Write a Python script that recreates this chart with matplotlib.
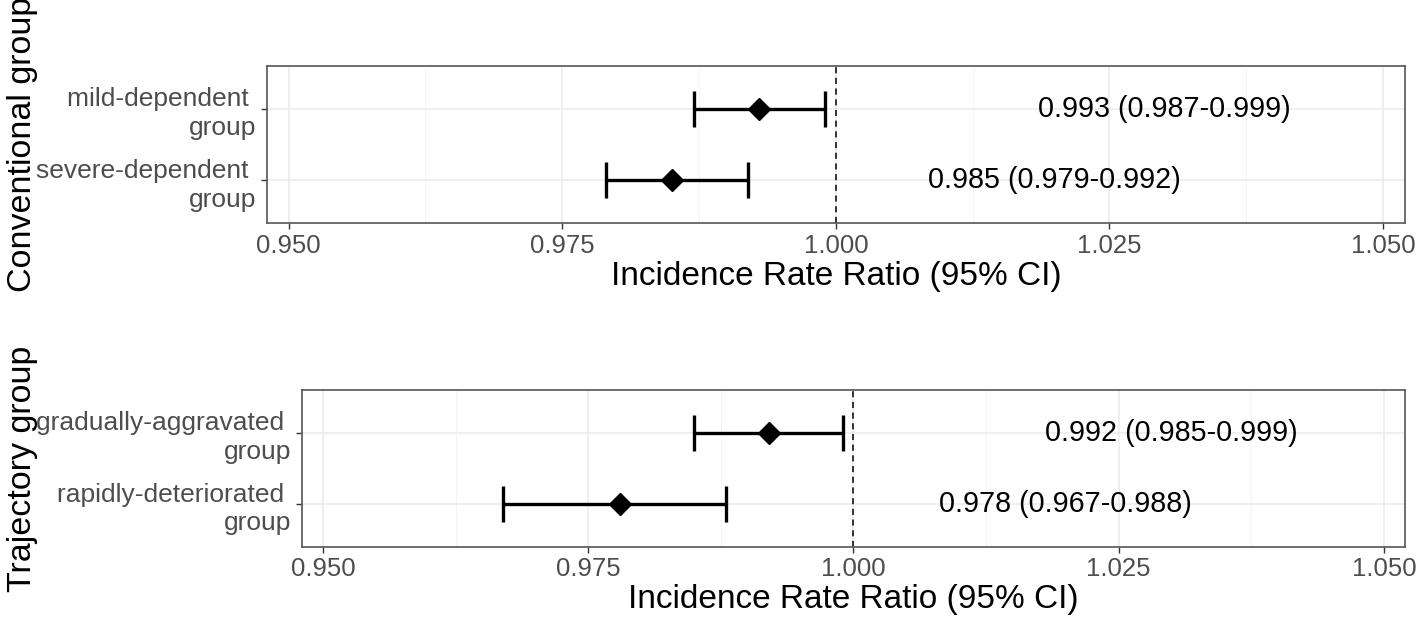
import matplotlib.pyplot as plt
from matplotlib.ticker import MultipleLocator

plt.rcParams["font.family"] = ["Liberation Sans", "DejaVu Sans"]

# panel 1: conventional grouping
conv_labels = ["mild-dependent \ngroup", "severe-dependent \ngroup"]
conv_irr = [0.993, 0.985]
conv_low = [0.987, 0.979]
conv_high = [0.999, 0.992]

# panel 2: trajectory grouping
traj_labels = ["gradually-aggravated \ngroup", "rapidly-deteriorated \ngroup"]
traj_irr = [0.992, 0.978]
traj_low = [0.985, 0.967]
traj_high = [0.999, 0.988]

xticks = [0.950, 0.975, 1.000, 1.025, 1.050]
# where the IRR text sits (centre, in x units), first and second row
text_pos = [1.030, 1.020]


def forest(ax, labels, irr, low, high):
    y = [2, 1]
    ax.set_xlim(0.948, 1.052)
    ax.set_ylim(0.4, 2.6)
    ax.xaxis.set_minor_locator(MultipleLocator(0.0125))
    ax.set_xticks(xticks)
    ax.set_xticklabels([f"{t:.3f}" for t in xticks])
    ax.set_yticks(y)
    for lab in ax.set_yticklabels(labels, fontsize=19):
        lab.set_linespacing(1.25)
    ax.grid(which="major", color="#ebebeb", lw=1.1)
    ax.grid(which="minor", axis="x", color="#f3f3f3", lw=0.6)
    ax.set_axisbelow(True)
    ax.tick_params(which="minor", length=0)
    ax.tick_params(which="major", length=4, color="#333333", width=1,
                   labelcolor="#4d4d4d")
    ax.tick_params(axis="x", labelsize=18.5)
    for s in ax.spines.values():
        s.set_color("#555555")
        s.set_linewidth(1.2)

    ax.axvline(1.0, color="black", lw=1.1, ls=(0, (4, 3)))
    err = [[m - l for m, l in zip(irr, low)], [h - m for m, h in zip(irr, high)]]
    ax.errorbar(irr, y, xerr=err, fmt="none", ecolor="black", elinewidth=2.4,
                capsize=13, capthick=2.4)
    ax.plot(irr, y, ls="none", marker="D", color="black", markersize=11)
    for yy, m, l, h, tx in zip(y, irr, low, high, text_pos):
        ax.text(tx, yy, f"{m:.3f} ({l:.3f}-{h:.3f})", ha="center", va="center",
                fontsize=20.7, color="black")
    ax.set_xlabel("Incidence Rate Ratio (95% CI)", fontsize=24, labelpad=2)
    return ax


fig = plt.figure(figsize=(14.18, 6.21), dpi=100)
ax1 = fig.add_axes([0.1881, 0.6404, 0.8027, 0.2533])
ax2 = fig.add_axes([0.2128, 0.1192, 0.7781, 0.2528])

forest(ax1, conv_labels, conv_irr, conv_low, conv_high)
forest(ax2, traj_labels, traj_irr, traj_low, traj_high)

fig.text(0.016, 0.767, "Conventional group", rotation=90, ha="center", va="center", fontsize=24.5)
fig.text(0.016, 0.245, "Trajectory group", rotation=90, ha="center", va="center", fontsize=24.5)

fig.savefig("out.png", dpi=100)
